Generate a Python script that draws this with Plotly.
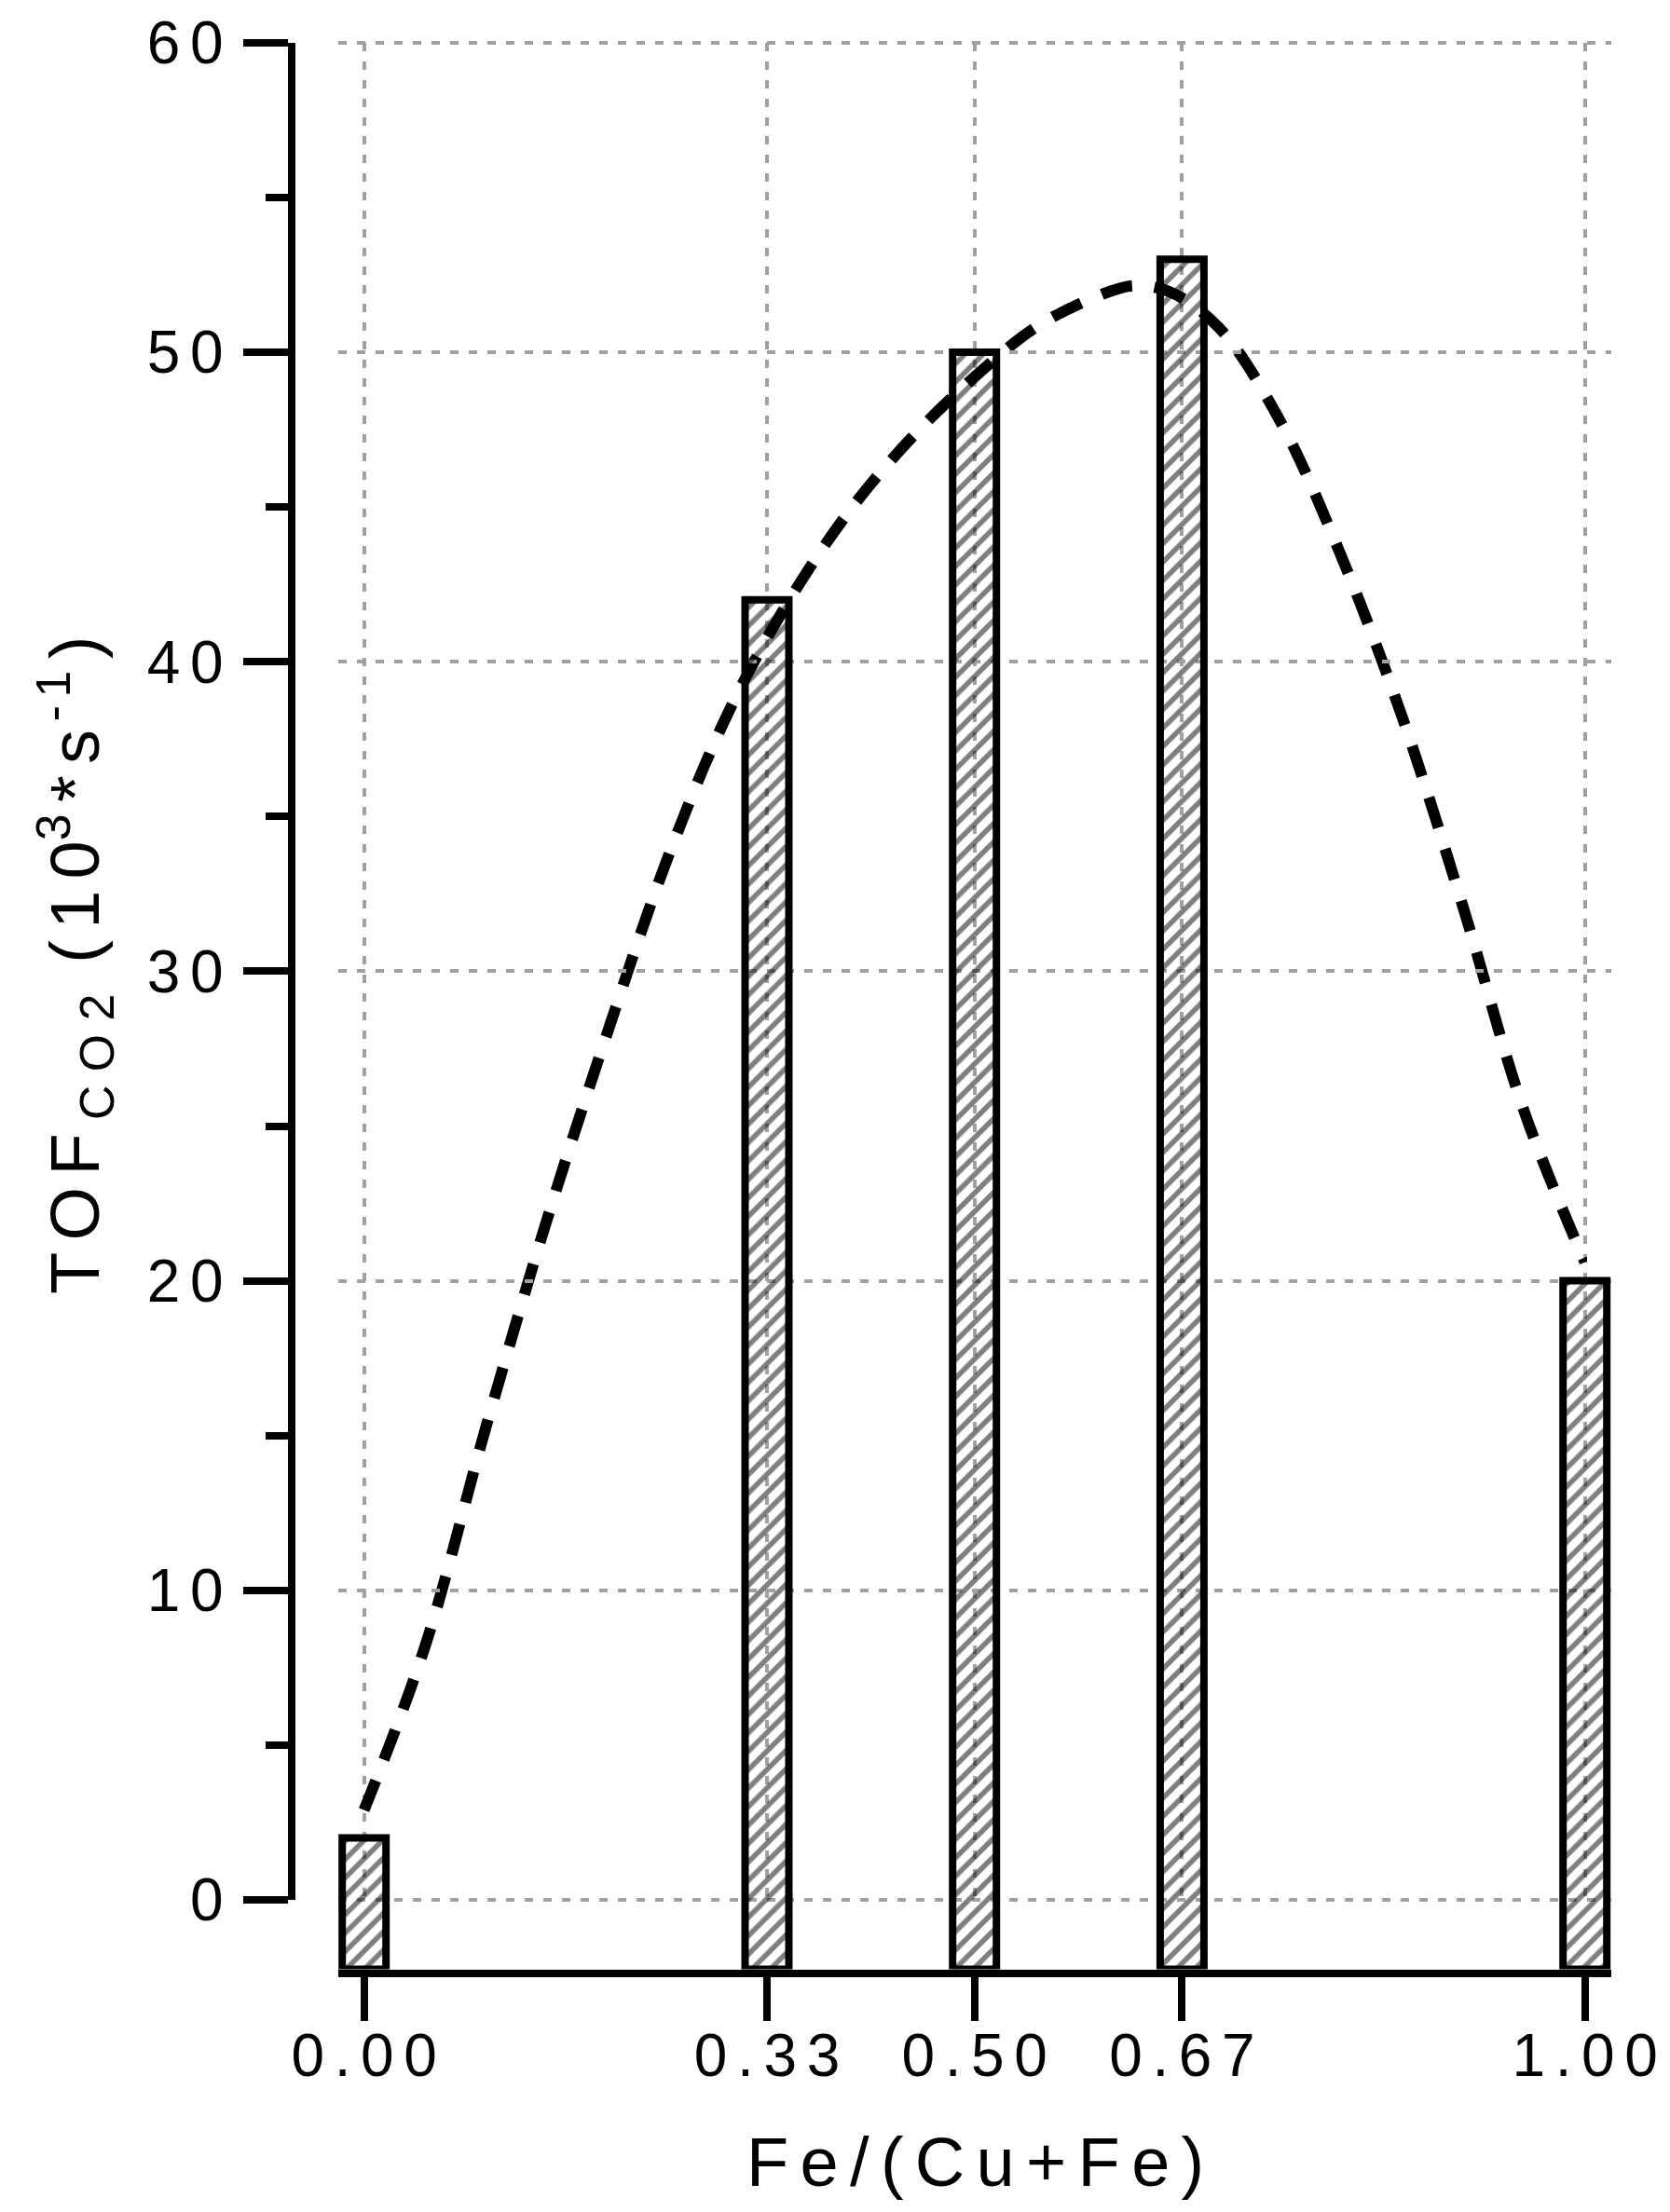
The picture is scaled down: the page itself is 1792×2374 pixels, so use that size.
"""
TOF(CO2) versus Fe/(Cu+Fe): hatched bars with a dashed trend curve.
"""

import plotly.graph_objects as go

W, H = 1792, 2374

# bar data
fe_ratio = [0.0, 0.33, 0.50, 0.67, 1.00]
tof_co2 = [2, 42, 50, 53, 20]

# dashed trend curve
curve_x = [0.0, 0.05, 0.10, 0.15, 0.20, 0.25, 0.30, 0.35, 0.40, 0.45, 0.50,
           0.55, 0.60, 0.63, 0.66, 0.70, 0.75, 0.80, 0.85, 0.90, 0.95, 1.00]
curve_y = [2.9, 8.2, 15.3, 22.0, 28.1, 33.8, 38.5, 42.1, 45.0, 47.3, 49.2,
           50.8, 51.8, 52.15, 51.95, 50.8, 47.8, 43.45, 38.25, 32.1, 25.5, 20.6]

# axis ticks
x_ticks = [0.0, 0.33, 0.50, 0.67, 1.00]
x_tick_labels = ["0.00", "0.33", "0.50", "0.67", "1.00"]
y_ticks = [0, 10, 20, 30, 40, 50, 60]
y_tick_labels = ["0", "10", "20", "30", "40", "50", "60"]
y_minor_ticks = [5, 15, 25, 35, 45, 55]

SP = "\u2006"   # six-per-em space, mimics the wide letter spacing
FONT = "Liberation Sans, Arial, sans-serif"
GRID = "#a0a0a4"


def spaced(text, sep=SP):
    return sep.join(text)


def fx(px):
    return px / W


def fy(py):
    return 1 - py / H


# pixel frame (Igor style detached axes)
X0_PX, X_SCALE = 390.7, 1310.0      # x = 0 position, px per unit
Y0_PX, Y_SCALE = 2039.0, 33.22      # y = 0 position, px per unit
AXIS_X_PX = 312.5                   # left axis line
GRID_L, GRID_R = 317.0, 1703.0
GRID_T, GRID_B = 42.7, 2113.5
BAR_L, BAR_R = 363.0, 1729.0


def xval(px):
    return (px - X0_PX) / X_SCALE


def yval(py):
    return (Y0_PX - py) / Y_SCALE


y_floor = yval(GRID_B)

fig = go.Figure()

fig.add_trace(
    go.Bar(
        x=fe_ratio,
        y=[v - y_floor for v in tof_co2],
        base=y_floor,
        width=47 / X_SCALE,
        xaxis="x2",
        yaxis="y",
        marker=dict(
            color="rgba(0,0,0,0)",
            line=dict(color="black", width=8),
            pattern=dict(
                shape="/",
                size=14,
                solidity=0.4,
                fgcolor="black",
                bgcolor="rgba(0,0,0,0)",
                fillmode="overlay",
            ),
        ),
        hoverinfo="skip",
    )
)

fig.add_trace(
    go.Scatter(
        x=curve_x,
        y=curve_y,
        mode="lines",
        xaxis="x",
        yaxis="y2",
        line=dict(color="black", width=12, dash="34px,24px", shape="spline"),
        hoverinfo="skip",
    )
)

tick_font = dict(family=FONT, size=64, color="black")

y_title = (
    spaced("TOF")
    + "<sub> " + spaced("CO2", " ") + "</sub>"
    + " " + SP + "(" + SP + spaced("10")
    + "<sup>3</sup>" + SP + "*" + SP + "s"
    + "<sup>" + SP + spaced("-1") + "</sup>" + SP + ")"
)

fig.update_layout(
    width=W,
    height=H,
    margin=dict(l=0, r=0, t=0, b=0, pad=0, autoexpand=False),
    paper_bgcolor="white",
    plot_bgcolor="rgba(0,0,0,0)",
    showlegend=False,
    bargap=0,
    # grid-only axes
    xaxis=dict(
        domain=[fx(GRID_L), fx(GRID_R)],
        range=[xval(GRID_L), xval(GRID_R)],
        anchor="y",
        tickmode="array",
        tickvals=x_ticks,
        showticklabels=False,
        ticks="",
        showline=False,
        zeroline=False,
        showgrid=True,
        gridcolor=GRID,
        gridwidth=4,
        griddash="9px,11px",
        automargin=False,
    ),
    yaxis=dict(
        domain=[fy(GRID_B), fy(GRID_T)],
        range=[y_floor, yval(GRID_T)],
        anchor="x",
        tickmode="array",
        tickvals=y_ticks,
        showticklabels=False,
        ticks="",
        showline=False,
        zeroline=False,
        showgrid=True,
        gridcolor=GRID,
        gridwidth=4,
        griddash="9px,11px",
        automargin=False,
    ),
    # bottom axis
    xaxis2=dict(
        domain=[fx(BAR_L), fx(BAR_R)],
        range=[xval(BAR_L), xval(BAR_R)],
        anchor="y",
        tickmode="array",
        tickvals=x_ticks,
        ticktext=[spaced(t) for t in x_tick_labels],
        ticks="outside",
        ticklen=47,
        tickwidth=8,
        tickcolor="black",
        tickfont=tick_font,
        ticklabelstandoff=-17,
        showline=True,
        linewidth=8,
        linecolor="black",
        showgrid=False,
        zeroline=False,
        automargin=False,
    ),
    # left axis, 0 to 60 only
    yaxis2=dict(
        domain=[fy(Y0_PX), fy(Y0_PX - 60 * Y_SCALE)],
        range=[0, 60],
        anchor="free",
        position=fx(AXIS_X_PX),
        side="left",
        tickmode="array",
        tickvals=y_ticks,
        ticktext=[spaced(t) for t in y_tick_labels],
        ticks="outside",
        ticklen=48,
        tickwidth=8,
        tickcolor="black",
        tickfont=tick_font,
        ticklabelstandoff=8,
        minor=dict(
            tickmode="array",
            tickvals=y_minor_ticks,
            ticks="outside",
            ticklen=24,
            tickwidth=8,
            tickcolor="black",
            showgrid=False,
        ),
        showline=True,
        linewidth=8,
        linecolor="black",
        showgrid=False,
        zeroline=False,
        automargin=False,
    ),
    annotations=[
        dict(
            text=spaced("Fe/(Cu+Fe)"),
            x=fx(1046.5),
            y=fy(2320),
            xref="paper",
            yref="paper",
            xanchor="center",
            yanchor="middle",
            showarrow=False,
            font=dict(family=FONT, size=74, color="black"),
        ),
        dict(
            text=y_title,
            x=fx(81),
            y=fy(1036),
            xref="paper",
            yref="paper",
            xanchor="center",
            yanchor="middle",
            textangle=-90,
            showarrow=False,
            font=dict(family=FONT, size=74, color="black"),
        ),
    ],
)

# drop the default 8px body margin so the figure sits at the page origin
page_js = "document.body.style.margin = '0';"

fig.write_html(
    "out.html",
    config={"displayModeBar": False, "staticPlot": True},
    post_script=page_js,
)
